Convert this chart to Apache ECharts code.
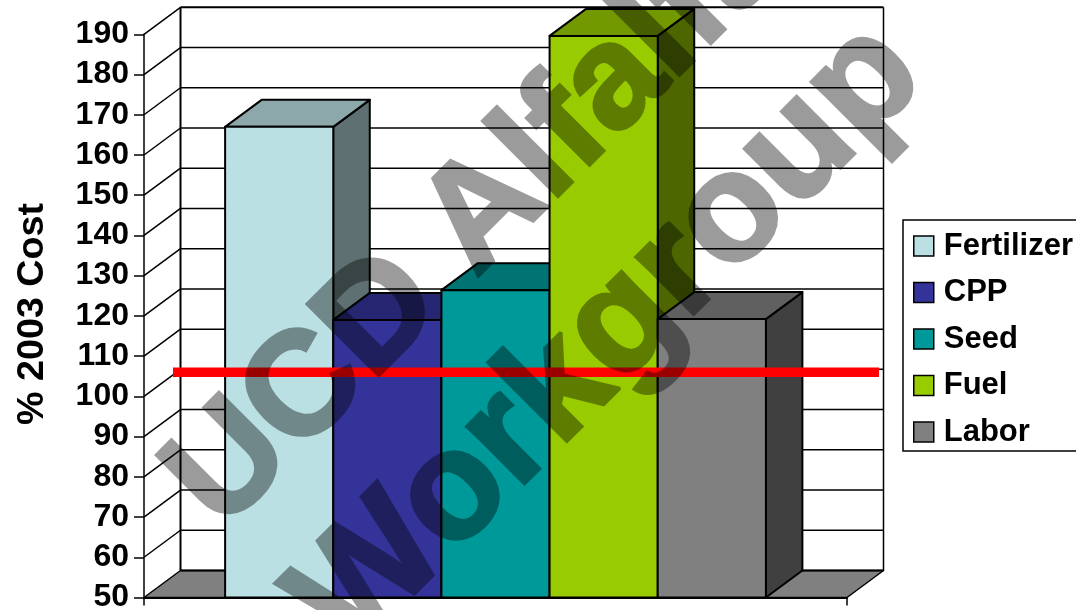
<!DOCTYPE html>
<html>
<head>
<meta charset="utf-8">
<script src="https://cdn.jsdelivr.net/npm/echarts@6/dist/echarts.min.js"></script>
<style>html,body{margin:0;padding:0;background:#fff}#chart{width:1076px;height:610px}</style>
</head>
<body>
<div id="chart"></div>
<script>
// Input cost categories and their cost as a percentage of 2003
const categories = ['Fertilizer', 'CPP', 'Seed', 'Fuel', 'Labor'];
const costValues = [167, 119, 126.4, 189.6, 119.2];
const barColors = ['#BBE0E3', '#333399', '#009999', '#99CC00', '#808080'];
const yTicks = [50, 60, 70, 80, 90, 100, 110, 120, 130, 140, 150, 160, 170, 180, 190];
const referenceLevel = [106];
const watermarkLines = ['UCD Alfalfa', 'Workgroup'];

// Oblique offset of the back plane, in pixels
const DEPTH_X = 36.5;
const DEPTH_Y = -27;
const FONT = '"Liberation Sans", Arial, sans-serif';

function shade(hex, k) {
  const n = parseInt(hex.slice(1), 16);
  const c = [n >> 16, (n >> 8) & 255, n & 255].map(v => Math.round(v * k));
  return 'rgb(' + c.join(',') + ')';
}

function poly(points, fill, lw) {
  return {
    type: 'polygon',
    shape: { points },
    style: { fill, stroke: '#000', lineWidth: lw === undefined ? 2 : lw, lineJoin: 'round' }
  };
}

function seg(x1, y1, x2, y2, lw) {
  return {
    type: 'line',
    shape: { x1, y1, x2, y2 },
    style: { stroke: '#000', lineWidth: lw, fill: null }
  };
}

// Back wall, side wall and floor, one gridline per tick
function renderWalls(params, api) {
  const tick = api.value(1);
  const band = api.size([1, 0])[0];
  const cx = api.coord([0, tick])[0];
  const left = cx - band / 2;
  const right = cx + band / 2;
  const y = api.coord([0, tick])[1];
  const children = [];
  const isBase = tick === yTicks[0];
  const isTop = tick === yTicks[yTicks.length - 1];
  if (isBase) {
    children.push(poly([[left, y], [left + DEPTH_X, y + DEPTH_Y], [right + DEPTH_X, y + DEPTH_Y], [right, y]], '#808080', 1.5));
    const topY = api.coord([0, yTicks[yTicks.length - 1]])[1] + DEPTH_Y;
    children.push(seg(left + DEPTH_X, y + DEPTH_Y, left + DEPTH_X, topY, 2));
    children.push(seg(right + DEPTH_X, y + DEPTH_Y, right + DEPTH_X, topY, 1.5));
    // Outward ticks at both ends of the category axis
    children.push(seg(left, y, left, y + 8, 1.5));
    children.push(seg(right, y, right, y + 8, 1.5));
  } else {
    children.push(seg(left, y, left + DEPTH_X, y + DEPTH_Y, 1.5));
  }
  children.push(seg(left + DEPTH_X, y + DEPTH_Y, right + DEPTH_X, y + DEPTH_Y, isBase || isTop ? 2 : 1.5));
  return { type: 'group', children };
}

// One oblique box: front, top and side faces
function boxRenderer(index) {
  return function (params, api) {
    const band = api.size([1, 0])[0];
    const barW = band / (categories.length + 1.5);
    const top = api.coord([0, api.value(1)]);
    const base = api.coord([0, yTicks[0]]);
    const x0 = top[0] - band / 2 + barW * (0.75 + index);
    const x1 = x0 + barW;
    const color = barColors[index];
    return {
      type: 'group',
      children: [
        poly([[x1, base[1]], [x1 + DEPTH_X, base[1] + DEPTH_Y], [x1 + DEPTH_X, top[1] + DEPTH_Y], [x1, top[1]]], shade(color, 0.5)),
        poly([[x0, top[1]], [x0 + DEPTH_X, top[1] + DEPTH_Y], [x1 + DEPTH_X, top[1] + DEPTH_Y], [x1, top[1]]], shade(color, 0.75)),
        poly([[x0, base[1]], [x0, top[1]], [x1, top[1]], [x1, base[1]]], color)
      ]
    };
  };
}

// Reference level running across the whole plot depth
function renderReference(params, api) {
  const band = api.size([1, 0])[0];
  const p = api.coord([0, api.value(1)]);
  return {
    type: 'line',
    shape: { x1: p[0] - band / 2 + 29, y1: p[1], x2: p[0] + band / 2 + 32, y2: p[1] },
    style: { stroke: '#FF0000', lineWidth: 9.5 }
  };
}

const series = [{
  type: 'custom',
  name: 'walls',
  renderItem: renderWalls,
  silent: true,
  z: 1,
  data: yTicks.map(t => [0, t])
}];
categories.forEach((name, i) => {
  series.push({
    type: 'custom',
    name,
    renderItem: boxRenderer(i),
    itemStyle: { color: barColors[i] },
    z: 2,
    data: [[0, costValues[i]]]
  });
});
series.push({
  type: 'custom',
  name: 'reference',
  renderItem: renderReference,
  silent: true,
  z: 3,
  data: referenceLevel.map(v => [0, v])
});

const option = {
  animation: false,
  backgroundColor: '#fff',
  grid: { left: 144, right: 229, top: 34.3, bottom: 12.5, outerBoundsMode: 'none' },
  xAxis: {
    type: 'category',
    data: [''],
    axisLine: { lineStyle: { color: '#000', width: 2 } },
    axisTick: { show: false },
    axisLabel: { show: false }
  },
  yAxis: {
    type: 'value',
    min: 50,
    max: 190,
    interval: 10,
    name: '% 2003 Cost',
    nameLocation: 'middle',
    nameRotate: 90,
    nameGap: 92,
    nameTextStyle: { fontFamily: FONT, fontWeight: 'bold', fontSize: 37.7, color: '#000', padding: [0, 0, 0, 4] },
    axisLine: { show: true, lineStyle: { color: '#000', width: 1.5 } },
    axisTick: { show: true, length: 10, lineStyle: { color: '#000', width: 1.5 } },
    axisLabel: { margin: 15, fontFamily: FONT, fontWeight: 'bold', fontSize: 32, color: '#000' },
    splitLine: { show: false }
  },
  legend: {
    data: categories,
    orient: 'vertical',
    left: 903,
    top: 220,
    padding: [10.5, 30, 3.5, 10],
    itemGap: 15.5,
    itemWidth: 20,
    itemHeight: 20,
    icon: 'rect',
    backgroundColor: '#fff',
    borderColor: '#000',
    borderWidth: 1.5,
    itemStyle: { borderColor: '#000', borderWidth: 1.5 },
    textStyle: { fontFamily: FONT, fontWeight: 'bold', fontSize: 31, color: '#000', padding: [0, 0, 0, 5] },
    selectedMode: false
  },
  // The diagonal overlay sits on its own layer so that its fill and outline share one transparency
  graphic: [
    {
      type: 'text', zlevel: 1, x: 245, y: 556, rotation: Math.PI / 4,
      style: { text: watermarkLines[0], font: 'bold 147px ' + FONT, fill: '#000', stroke: '#000', lineWidth: 3.5, lineJoin: 'round', textVerticalAlign: 'bottom' }
    },
    {
      type: 'text', zlevel: 1, x: 374, y: 683, rotation: Math.PI / 4,
      style: { text: watermarkLines[1], font: 'bold 154px ' + FONT, fill: '#000', stroke: '#000', lineWidth: 3.5, lineJoin: 'round', textVerticalAlign: 'bottom' }
    }
  ],
  series
};

const dom = document.getElementById('chart');
const chart = echarts.init(dom, null, { renderer: 'canvas' });
chart.setOption(option);
const layers = dom.querySelectorAll('canvas');
layers[layers.length - 1].style.opacity = 0.39;
</script>
</body>
</html>
